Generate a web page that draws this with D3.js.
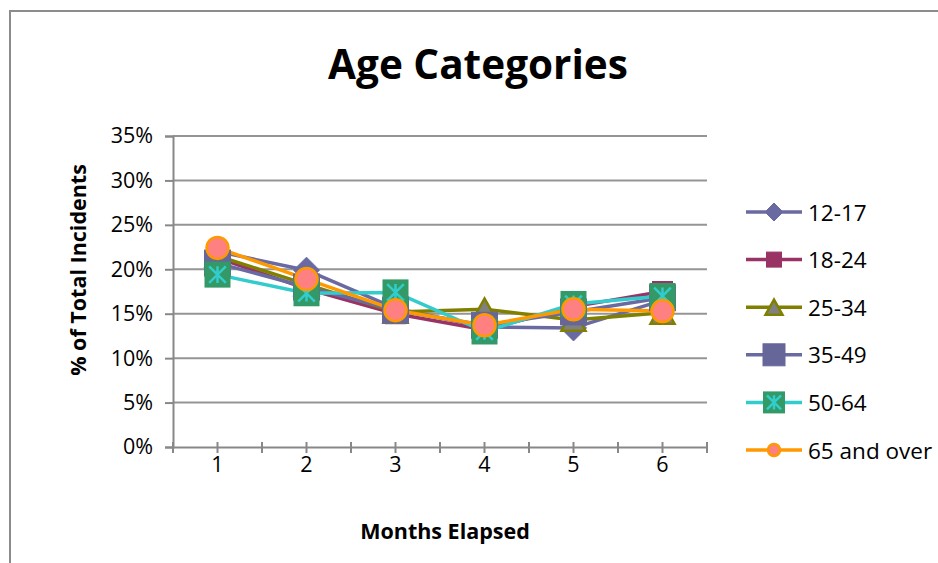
<!DOCTYPE html>
<html>
<head>
<meta charset="utf-8">
<script src="https://cdn.jsdelivr.net/npm/d3@7"></script>
<style>
  html, body { margin: 0; padding: 0; background: #fff; }
  svg { display: block; font-family: "Open Sans", "DejaVu Sans", sans-serif; }
</style>
</head>
<body>
<svg id="chart" width="938" height="563"></svg>
<script>
// Share of total incidents (%) per age group, by months elapsed
const months = [1, 2, 3, 4, 5, 6];
const seriesNames = ["12-17", "18-24", "25-34", "35-49", "50-64", "65 and over"];
const age12to17 = [22.0, 19.9, 15.6, 13.5, 13.4, 16.5];
const age18to24 = [21.3, 17.8, 15.0, 13.2, 15.8, 17.5];
const age25to34 = [21.5, 18.3, 15.2, 15.5, 14.3, 15.1];
const age35to49 = [20.7, 18.0, 15.4, 13.7, 15.2, 16.8];
const age50to64 = [19.4, 17.3, 17.4, 13.0, 16.1, 17.0];
const age65plus = [22.4, 18.9, 15.4, 13.7, 15.5, 15.3];
const yTicks = [0, 5, 10, 15, 20, 25, 30, 35];

const seriesValues = [age12to17, age18to24, age25to34, age35to49, age50to64, age65plus];

// Line colour, marker shape and marker colours per series
const styles = [
  { line: "#6a6aa2", shape: "diamond", fill: "#6a6aa2", stroke: "#6a6aa2", size: 26, lsize: 18 },
  { line: "#993366", shape: "square", fill: "#993366", stroke: "#993366", size: 20, lsize: 15 },
  { line: "#808000", shape: "triangle", fill: "#808080", stroke: "#808000", size: 24, lsize: 17 },
  { line: "#6a6aa2", shape: "square", fill: "#666699", stroke: "#666699", size: 26, lsize: 22 },
  { line: "#33cccc", shape: "asterisk", fill: "#339966", stroke: "#33cccc", size: 26, lsize: 22 },
  { line: "#ff9900", shape: "circle", fill: "#ff8080", stroke: "#ff9900", size: 24, lsize: 14 }
];

const svg = d3.select("#chart");
const plot = { left: 173, right: 707, top: 136, bottom: 447 };

// Category axis: each month gets a band, the point sits at the band centre
const x = d3.scaleBand().domain(months).range([plot.left, plot.right]).paddingInner(0).paddingOuter(0);
const y = d3.scaleLinear().domain([0, 35]).range([plot.bottom, plot.top]);
const cx = m => x(m) + x.bandwidth() / 2;

// Chart frame
svg.append("path")
  .attr("d", "M10,563 L10,11 L938,11")
  .attr("fill", "none").attr("stroke", "#8c8c8c").attr("stroke-width", 2);

// Title
svg.append("text")
  .attr("x", 478).attr("y", 79)
  .attr("text-anchor", "middle")
  .attr("font-size", 40.5).attr("font-weight", "bold").attr("fill", "#000")
  .text("Age Categories");

// Horizontal gridlines
svg.append("g").selectAll("line").data(yTicks.filter(t => t > 0)).join("line")
  .attr("x1", plot.left).attr("x2", plot.right)
  .attr("y1", d => y(d)).attr("y2", d => y(d))
  .attr("stroke", "#959595").attr("stroke-width", 2);

// Y axis
const yAxis = d3.axisLeft(y).tickValues(yTicks).tickFormat(d => d + "%").tickSize(8).tickPadding(12);
const gy = svg.append("g").attr("transform", `translate(${plot.left},0)`).call(yAxis);
gy.select(".domain").attr("stroke", "#888").attr("stroke-width", 2);
gy.selectAll(".tick line").attr("stroke", "#888").attr("stroke-width", 2);
gy.selectAll(".tick text").attr("font-size", 21.5).attr("fill", "#000")
  .attr("font-family", "'Open Sans', sans-serif");

// X axis: labels at band centres, tick marks at band edges and centres
const xAxis = d3.axisBottom(x).tickSize(0).tickPadding(10);
const gx = svg.append("g").attr("transform", `translate(0,${plot.bottom})`).call(xAxis);
gx.select(".domain").attr("stroke", "#888").attr("stroke-width", 2);
gx.selectAll(".tick text").attr("font-size", 21.5).attr("fill", "#000")
  .attr("font-family", "'Open Sans', sans-serif");
const tickXs = [];
months.forEach((m, i) => {
  if (i === 0) tickXs.push(x(m));
  tickXs.push(cx(m));
  tickXs.push(x(m) + x.bandwidth());
});
svg.append("g").selectAll("line").data(tickXs).join("line")
  .attr("x1", d => d).attr("x2", d => d)
  .attr("y1", plot.bottom - 5).attr("y2", plot.bottom + 6)
  .attr("stroke", "#888").attr("stroke-width", 2);

// Axis titles
svg.append("text")
  .attr("transform", "translate(80,270) rotate(-90)")
  .attr("text-anchor", "middle").attr("dominant-baseline", "middle")
  .attr("font-size", 21.5).attr("font-weight", "bold").attr("fill", "#000")
  .text("% of Total Incidents");
svg.append("text")
  .attr("x", 445).attr("y", 539)
  .attr("text-anchor", "middle")
  .attr("font-size", 21.5).attr("font-weight", "bold").attr("fill", "#000")
  .text("Months Elapsed");

// Marker drawing
function drawMarker(g, st, px, py, size) {
  const h = size / 2;
  if (st.shape === "diamond") {
    g.append("path").attr("d", `M${px},${py - h} L${px + h},${py} L${px},${py + h} L${px - h},${py} Z`)
      .attr("fill", st.fill).attr("stroke", st.stroke).attr("stroke-width", 1);
  } else if (st.shape === "square") {
    g.append("rect").attr("x", px - h).attr("y", py - h).attr("width", size).attr("height", size)
      .attr("fill", st.fill).attr("stroke", st.stroke).attr("stroke-width", 1);
  } else if (st.shape === "triangle") {
    const hh = size * 0.45;
    g.append("path").attr("d", `M${px},${py - hh} L${px + h},${py + hh} L${px - h},${py + hh} Z`)
      .attr("fill", st.fill).attr("stroke", st.stroke).attr("stroke-width", 2.5).attr("stroke-linejoin", "miter");
  } else if (st.shape === "asterisk") {
    g.append("rect").attr("x", px - h).attr("y", py - h).attr("width", size).attr("height", size)
      .attr("fill", st.fill);
    const a = size * 0.32;
    const d = `M${px},${py - a} L${px},${py + a} M${px - a},${py - a} L${px + a},${py + a} M${px + a},${py - a} L${px - a},${py + a}`;
    g.append("path").attr("d", d).attr("stroke", st.stroke).attr("stroke-width", 2.5).attr("fill", "none");
  } else if (st.shape === "circle") {
    g.append("circle").attr("cx", px).attr("cy", py).attr("r", h - 1)
      .attr("fill", st.fill).attr("stroke", st.stroke).attr("stroke-width", 2.5);
  }
}

// Series lines first, then markers on top
const line = d3.line().x((d, i) => cx(months[i])).y(d => y(d));
const linesG = svg.append("g");
seriesValues.forEach((vals, si) => {
  linesG.append("path").datum(vals).attr("d", line)
    .attr("fill", "none").attr("stroke", styles[si].line)
    .attr("stroke-width", 3.5).attr("stroke-linejoin", "round");
});
const markersG = svg.append("g");
seriesValues.forEach((vals, si) => {
  vals.forEach((v, i) => drawMarker(markersG, styles[si], cx(months[i]), y(v), styles[si].size));
});

// Legend
const legend = svg.append("g");
const legendTop = 212, legendStep = 47.6;
seriesNames.forEach((name, si) => {
  const ly = legendTop + si * legendStep;
  legend.append("line").attr("x1", 746).attr("x2", 802).attr("y1", ly).attr("y2", ly)
    .attr("stroke", styles[si].line).attr("stroke-width", 3.5);
  drawMarker(legend, styles[si], 774, ly, styles[si].lsize);
  legend.append("text").attr("x", 808).attr("y", ly).attr("dominant-baseline", "central")
    .attr("font-size", 22.5).attr("fill", "#000").text(name);
});
</script>
</body>
</html>
